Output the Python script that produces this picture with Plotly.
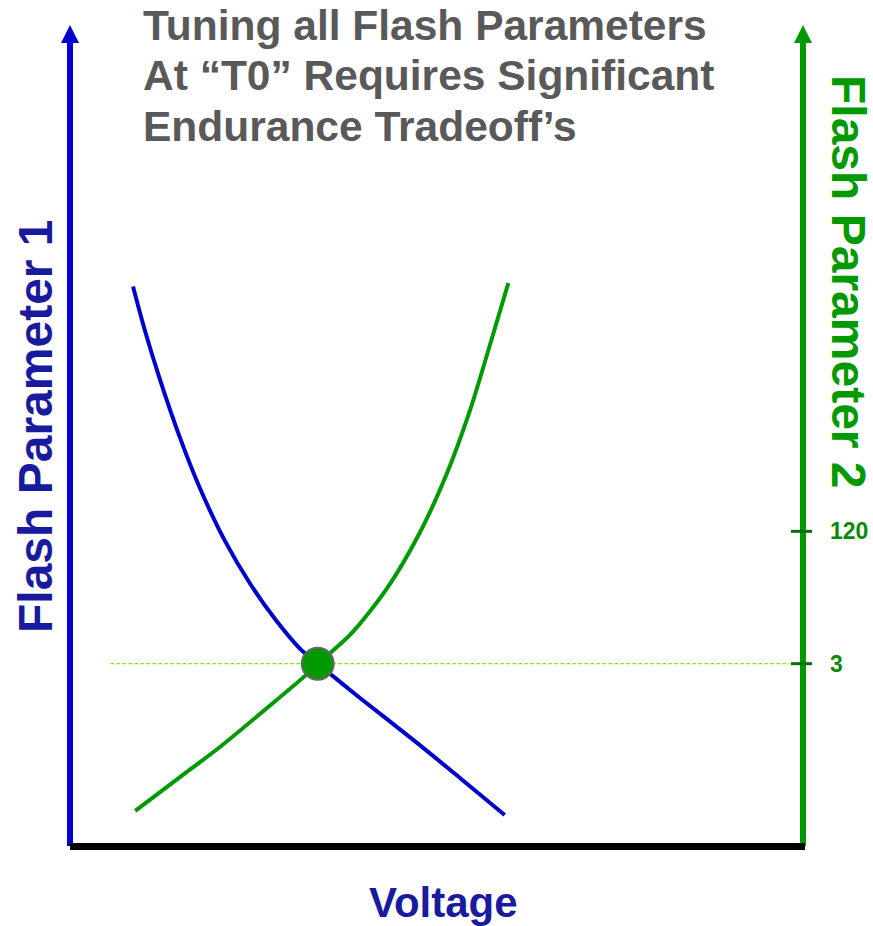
import plotly.graph_objects as go

# ---- data (arbitrary units: voltage 0..10, parameter 0..10) ----
blue_v = [0.86, 1.02, 1.23, 1.50, 1.77, 2.11, 2.46, 2.80, 3.14, 3.38, 3.96, 4.73, 5.32, 5.93]
blue_p = [6.82, 6.29, 5.68, 4.98, 4.37, 3.73, 3.20, 2.77, 2.41, 2.23, 1.81, 1.27, 0.84, 0.39]
green_v = [0.89, 1.50, 2.05, 2.66, 3.23, 3.38, 3.82, 4.32, 4.77, 5.14, 5.46, 5.73, 5.98]
green_p = [0.44, 0.85, 1.22, 1.67, 2.10, 2.23, 2.58, 3.14, 3.82, 4.54, 5.32, 6.11, 6.86]
cross_v = [3.38]
cross_p = [2.23]
ref_v = [0.55, 9.82]
ref_p = [2.23, 2.23]
tick_pos = [2.23, 3.84]
tick_labels = ["3", "120"]

W, H = 873, 926
PL, PR, PT, PB = 70, 803, 25, 847          # plot area in page pixels
L, R, T, B = PL, W - PR, PT, H - PB
PW, PH = PR - PL, PB - PT


def X(px):
    return (px - PL) / PW


def Y(py):
    return (PB - py) / PH


FONT = "Liberation Sans, Arial, sans-serif"
BLUE = "#0000cc"
DBLUE = "#1a1a9e"
GREEN = "#009900"

fig = go.Figure()
fig.add_trace(go.Scatter(x=blue_v, y=blue_p, mode="lines",
                         line=dict(color=BLUE, width=4, shape="spline", smoothing=0.8),
                         hoverinfo="skip", showlegend=False))
fig.add_trace(go.Scatter(x=green_v, y=green_p, mode="lines",
                         line=dict(color=GREEN, width=4, shape="spline", smoothing=0.8),
                         hoverinfo="skip", showlegend=False))
fig.add_trace(go.Scatter(x=ref_v, y=ref_p, mode="lines",
                         line=dict(color="#8fe020", width=1.3, dash="4px,2px"),
                         hoverinfo="skip", showlegend=False))
fig.add_trace(go.Scatter(x=cross_v, y=cross_p, mode="markers",
                         marker=dict(size=32, color=GREEN,
                                     line=dict(color="#666666", width=2)),
                         hoverinfo="skip", showlegend=False))

shapes = [
    # left (blue) axis
    dict(type="line", xref="paper", yref="paper", x0=0, x1=0, y0=Y(846), y1=Y(41),
         line=dict(color=BLUE, width=6)),
    dict(type="path", xref="paper", yref="paper",
         path=f"M {X(70)} {Y(25)} L {X(61)} {Y(43)} L {X(79)} {Y(43)} Z",
         fillcolor=BLUE, line=dict(width=0)),
    # right (green) axis
    dict(type="line", xref="paper", yref="paper", x0=X(803), x1=X(803), y0=Y(846), y1=Y(41),
         line=dict(color=GREEN, width=6)),
    dict(type="path", xref="paper", yref="paper",
         path=f"M {X(803)} {Y(25)} L {X(794)} {Y(43)} L {X(812)} {Y(43)} Z",
         fillcolor=GREEN, line=dict(width=0)),
    # bottom (black) axis
    dict(type="line", xref="paper", yref="paper", x0=X(70), x1=X(805), y0=Y(846.5), y1=Y(846.5),
         line=dict(color="black", width=7)),
]
for tp in tick_pos:
    shapes.append(dict(type="line", xref="paper", yref="y", x0=X(791), x1=X(812), y0=tp, y1=tp,
                       line=dict(color="#0a6e0a", width=3)))

annotations = [
    dict(text="Tuning all Flash Parameters", x=X(141), y=Y(25), xanchor="left", yanchor="middle"),
    dict(text="At “T0” Requires Significant", x=X(141), y=Y(76), xanchor="left", yanchor="middle"),
    dict(text="Endurance Tradeoff’s", x=X(141), y=Y(127), xanchor="left", yanchor="middle"),
]
for a in annotations:
    a.update(xref="paper", yref="paper", showarrow=False,
             font=dict(family=FONT, size=42.5, color="#595959", weight="bold"))

# right-axis tick labels
for tp, tl in zip(tick_pos, tick_labels):
    annotations.append(dict(text=tl, x=X(828), y=tp, xref="paper", yref="y",
                            showarrow=False, xanchor="left", yanchor="middle",
                            font=dict(family=FONT, size=23, color="#0a8a0a", weight="bold")))

annotations += [
    dict(text="Flash Parameter 1", x=X(35), y=Y(426), xref="paper", yref="paper",
         showarrow=False, textangle=-90, xanchor="center", yanchor="middle",
         font=dict(family=FONT, size=48, color=DBLUE, weight="bold")),
    dict(text="Flash Parameter 2", x=X(849), y=Y(282), xref="paper", yref="paper",
         showarrow=False, textangle=90, xanchor="center", yanchor="middle",
         font=dict(family=FONT, size=48, color=GREEN, weight="bold")),
    dict(text="Voltage", x=X(443), y=Y(902), xref="paper", yref="paper",
         showarrow=False, xanchor="center", yanchor="middle",
         font=dict(family=FONT, size=42, color=DBLUE, weight="bold")),
]

fig.update_layout(
    width=W, height=H,
    margin=dict(l=L, r=R, t=T, b=B, pad=0, autoexpand=False),
    paper_bgcolor="white", plot_bgcolor="white",
    xaxis=dict(range=[0, 10], visible=False, fixedrange=True, automargin=False),
    yaxis=dict(range=[0, 10], visible=False, fixedrange=True, automargin=False),
    shapes=shapes,
    annotations=annotations,
    showlegend=False,
)

fig.write_html("out.html",
               config={"displayModeBar": False, "staticPlot": True},
               post_script="document.body.style.margin='0';document.body.style.overflow='hidden';")
